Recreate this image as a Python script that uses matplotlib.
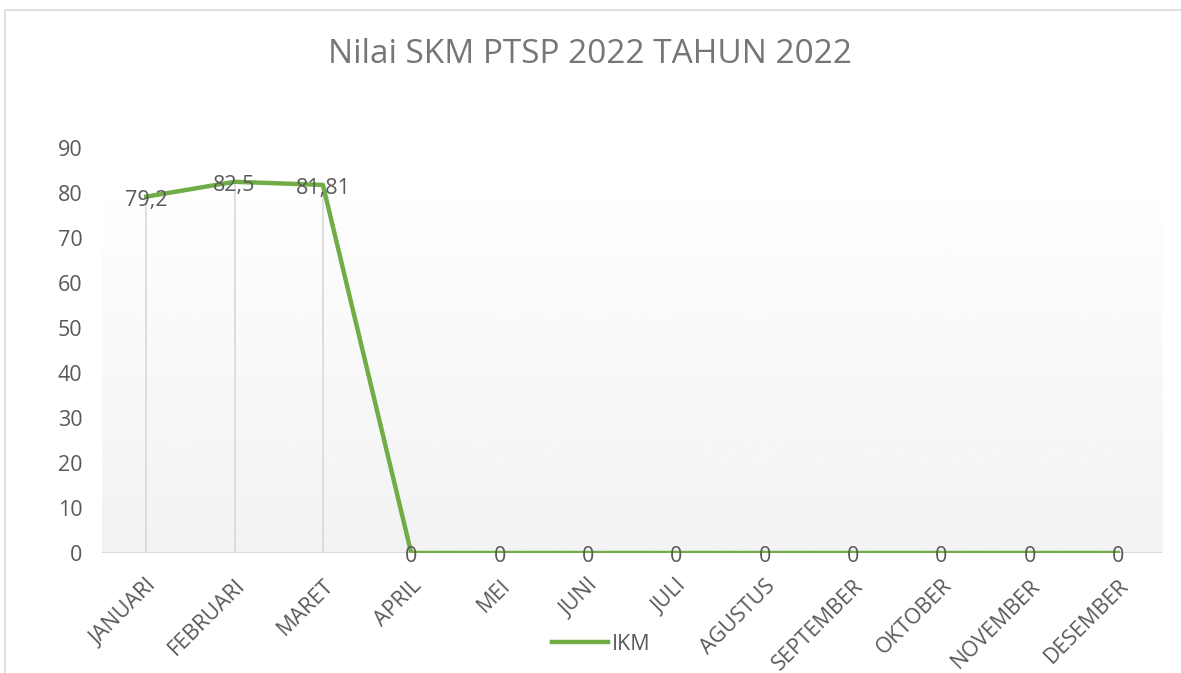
import numpy as np
from matplotlib import pyplot as plt
from matplotlib.patches import Rectangle

months = ["JANUARI", "FEBRUARI", "MARET", "APRIL", "MEI", "JUNI", "JULI",
          "AGUSTUS", "SEPTEMBER", "OKTOBER", "NOVEMBER", "DESEMBER"]
ikm = [79.2, 82.5, 81.81, 0, 0, 0, 0, 0, 0, 0, 0, 0]
labels = ["79,2", "82,5", "81,81", "0", "0", "0", "0", "0", "0", "0", "0", "0"]
yticks = [0, 10, 20, 30, 40, 50, 60, 70, 80, 90]

TEXT = "#595959"
GREEN = "#70AD47"
plt.rcParams['font.family'] = ['Open Sans', 'DejaVu Sans']

fig = plt.figure(figsize=(11.81, 6.73), dpi=100)
fig.patches.append(Rectangle((5 / 1181, -0.1), 1.2, 1.1 - 10 / 673,
                             transform=fig.transFigure, fill=False,
                             edgecolor="#d9d9d9", lw=1.2))

ax = fig.add_axes([0.0864, 0.1783, 0.8976, 0.6017])
x = np.arange(len(months))
ax.set_xlim(-0.5, len(months) - 0.5)
ax.set_ylim(0, 90)

# gradient plot-area fill (light grey at bottom fading to white)
grad = np.linspace(0.95, 0.995, 256).reshape(-1, 1)
ax.imshow(grad, cmap="gray", vmin=0, vmax=1, origin="lower", aspect="auto",
          extent=(-0.5, len(months) - 0.5, 0, 78.3), zorder=0)

ax.vlines(x, 0, ikm, color="#d9d9d9", lw=1.2, zorder=1)
ax.axhline(0, color="#d9d9d9", lw=1.5, zorder=1)
ax.plot(x, ikm, color=GREEN, lw=3.2, label="IKM", zorder=3,
        solid_joinstyle="round")

for xi, yi, lab in zip(x, ikm, labels):
    ax.annotate(lab, (xi, yi), xytext=(0, -2.5), textcoords="offset points",
                ha="center", va="center", fontsize=15.5, color=TEXT, zorder=4)

for s in ax.spines.values():
    s.set_visible(False)
ax.set_yticks(yticks)
ax.set_xticks(x)
ax.set_xticklabels(months, rotation=45, ha="right", rotation_mode="anchor")
ax.tick_params(axis="both", length=0, labelsize=15.5, colors=TEXT)
ax.tick_params(axis="y", pad=14)
ax.tick_params(axis="x", pad=16)

fig.suptitle("Nilai SKM PTSP 2022 TAHUN 2022", y=0.943, fontsize=24,
             color="#767676")
ax.legend(loc="center", bbox_to_anchor=(0.471, -0.226), frameon=False,
          fontsize=15.5, labelcolor=TEXT, handlelength=2.6, handletextpad=0.2)

fig.savefig("out.png", dpi=100)
